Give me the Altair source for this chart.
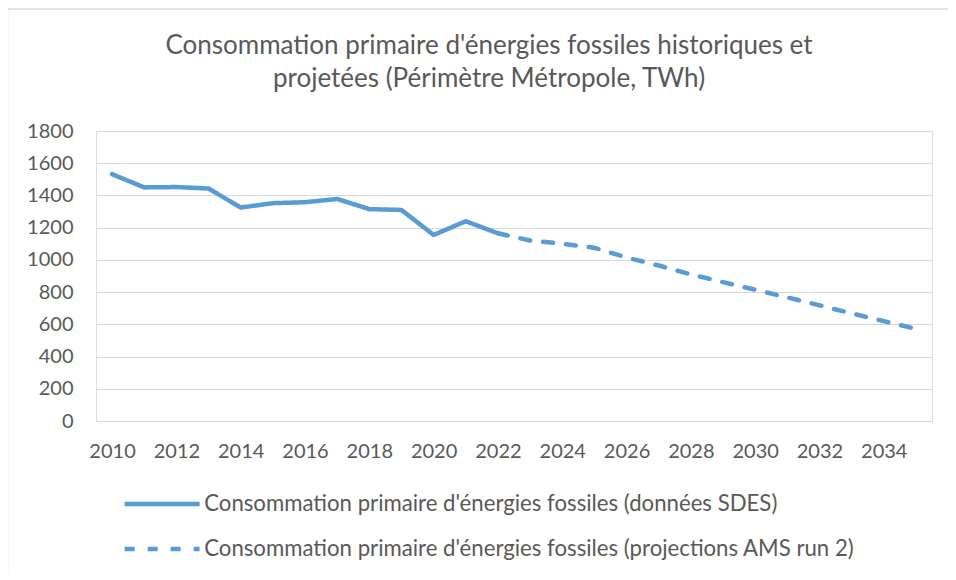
import altair as alt
import pandas as pd

# ---- data ----
hist_years = list(range(2010, 2023))
hist_values = [1532, 1450, 1452, 1443, 1325, 1352, 1358, 1378, 1315, 1310, 1155, 1240, 1165]
proj_years = list(range(2022, 2036))
proj_values = [1165, 1120, 1100, 1075, 1015, 965, 910, 862, 815, 767, 718, 668, 620, 572]
series_names = [
    "Consommation primaire d'énergies fossiles (données SDES)",
    "Consommation primaire d'énergies fossiles (projections AMS run 2)",
]
title_lines = [
    "Consommation primaire d'énergies fossiles historiques et",
    "projetées (Périmètre Métropole, TWh)",
]
x_tick_labels = list(range(2010, 2035, 2))
y_ticks = list(range(0, 1801, 200))

df = pd.concat([
    pd.DataFrame({"year": hist_years, "value": hist_values, "series": series_names[0]}),
    pd.DataFrame({"year": proj_years, "value": proj_values, "series": series_names[1]}),
])

FONT = "Lato"
TXT = "#595959"
GRID = "#D9D9D9"
BLUE = "#5B9BD5"
W, H = 836, 290
PL, PT = 88, 123
PR = 956 - 16 - PL - W
PB = 580 - 16 - PT - H

lines = alt.Chart(df).mark_line(
    strokeWidth=4.5, strokeCap="round", strokeJoin="round", color=BLUE
).encode(
    x=alt.X(
        "year:Q",
        scale=alt.Scale(domain=[2009.5, 2035.5], nice=False, zero=False),
        axis=alt.Axis(
            values=x_tick_labels, format="d", title=None, grid=False, ticks=False,
            tickSize=0, domain=True, domainColor=GRID, domainWidth=1,
            labelFont=FONT, labelFontSize=20, labelColor=TXT, labelPadding=20,
            labelFlush=False, labelOverlap=False,
        ),
    ),
    y=alt.Y(
        "value:Q",
        scale=alt.Scale(domain=[0, 1800], nice=False),
        axis=alt.Axis(
            values=y_ticks, format="d", title=None, grid=True, gridColor=GRID, gridWidth=1,
            domain=False, ticks=False, tickSize=0, labelFont=FONT, labelFontSize=20,
            labelColor=TXT, labelPadding=23,
        ),
    ),
    strokeDash=alt.StrokeDash(
        "series:N",
        scale=alt.Scale(domain=series_names, range=[[1, 0], [10, 13]]),
        legend=alt.Legend(
            title=None, orient="none", legendX=55, legendY=362, direction="vertical",
            symbolType="M-6,0H6", symbolSize=156, symbolStrokeWidth=4.5,
            symbolStrokeColor=BLUE, symbolFillColor=BLUE, labelFont=FONT,
            labelFontSize=22.2, labelColor=TXT, labelOffset=31, rowPadding=22,
            padding=0, labelLimit=800,
        ),
    ),
)

border = alt.Chart(pd.DataFrame({"k": [0]})).mark_rect(
    fillOpacity=0, stroke=GRID, strokeWidth=1.5
).encode(
    x=alt.value(-PL - 0.5), y=alt.value(-PT + 1), x2=alt.value(2000), y2=alt.value(2000)
)

chart = alt.layer(border, lines).properties(
    width=W, height=H,
    padding={"left": PL, "top": PT, "right": PR, "bottom": PB},
    autosize=alt.AutoSizeParams(type="none"),
    title=alt.Title(
        text=title_lines, font=FONT, fontSize=26, fontWeight="normal", color=TXT,
        anchor="middle", frame="group", dx=-25, dy=120, offset=36, lineHeight=33,
    ),
).configure_view(stroke=None).configure(background="white")

chart.save("out.html", embed_options={"renderer": "svg", "actions": False})
